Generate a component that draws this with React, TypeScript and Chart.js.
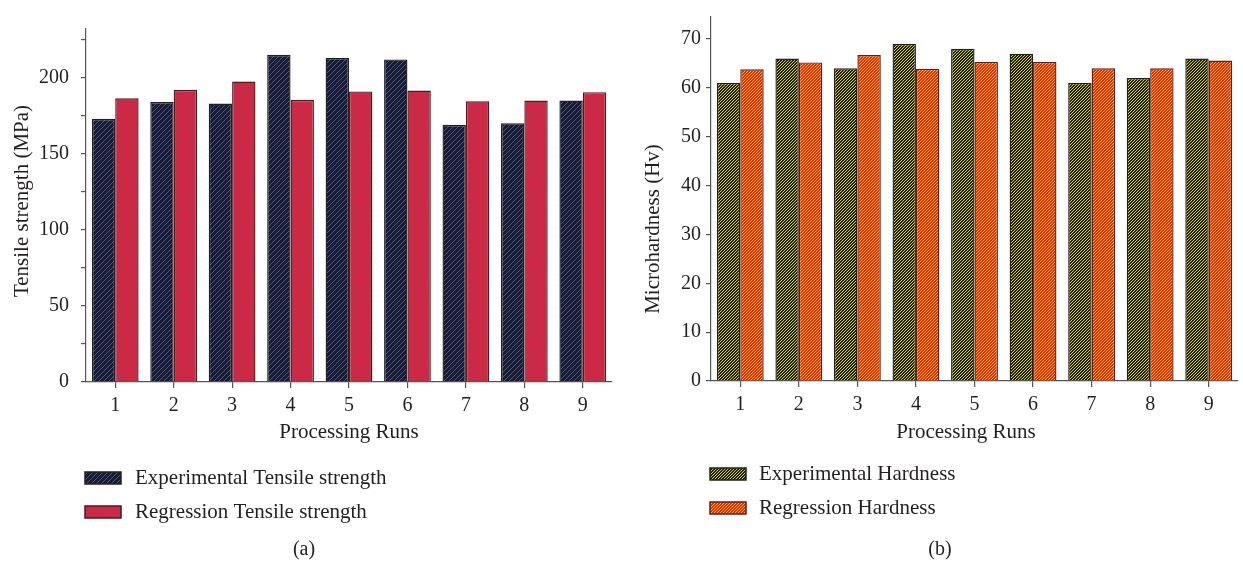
import React, { useEffect, useRef } from "react";
import { Chart, registerables } from "chart.js";

Chart.register(...registerables);

const runs = ["1", "2", "3", "4", "5", "6", "7", "8", "9"];
const expTensile = [173, 184, 183, 215, 213, 212, 169, 170, 185];
const regTensile = [186.5, 192, 197.5, 185.5, 191, 191.5, 184.5, 185, 190.5];
const expHardness = [61, 66, 64, 69, 68, 67, 61, 62, 66];
const regHardness = [63.8, 65.2, 66.7, 63.9, 65.3, 65.3, 64, 64, 65.6];
const tensileSeries = ["Experimental Tensile strength", "Regression Tensile strength"];
const hardnessSeries = ["Experimental Hardness", "Regression Hardness"];
const xTitle = "Processing Runs";
const tensileTitle = "Tensile strength (MPa)";
const hardnessTitle = "Microhardness (Hv)";
const captions = ["(a)", "(b)"];

const FONT = "'Liberation Serif', 'Times New Roman', serif";
const TEXT = "#231f20";
const AXIS = "#555555";

function stripes(base: string, stripe: string, size: number, lw: number) {
  const c = document.createElement("canvas");
  c.width = size;
  c.height = size;
  const g = c.getContext("2d")!;
  g.fillStyle = base;
  g.fillRect(0, 0, size, size);
  g.strokeStyle = stripe;
  g.lineWidth = lw;
  for (const k of [-size, 0, size]) {
    g.beginPath();
    g.moveTo(k, size);
    g.lineTo(k + size, 0);
    g.stroke();
  }
  return g.createPattern(c, "repeat")!;
}

const decor = {
  id: "decor",
  afterDraw(chart: any, _args: any, opts: any) {
    const ctx = chart.ctx as CanvasRenderingContext2D;
    ctx.save();
    ctx.fillStyle = TEXT;
    ctx.textBaseline = "middle";
    ctx.font = `21px ${FONT}`;
    ctx.textAlign = "center";
    ctx.fillText(opts.xTitle, opts.xTitleX, opts.xTitleY);
    ctx.save();
    ctx.translate(opts.yTitleX, opts.yTitleY);
    ctx.rotate(-Math.PI / 2);
    ctx.fillText(opts.yTitle, 0, 0);
    ctx.restore();
    chart.data.datasets.forEach((ds: any, i: number) => {
      const y = opts.legendY[i];
      ctx.fillStyle = ds.backgroundColor;
      ctx.fillRect(opts.legendX, y - 6, 36, 12);
      ctx.strokeStyle = ds.borderColor;
      ctx.lineWidth = 1.5;
      ctx.strokeRect(opts.legendX, y - 6, 36, 12);
      ctx.fillStyle = TEXT;
      ctx.textAlign = "left";
      ctx.font = `21px ${FONT}`;
      ctx.fillText(ds.label, opts.legendTextX, y);
    });
    ctx.font = `20px ${FONT}`;
    ctx.textAlign = "center";
    ctx.fillStyle = TEXT;
    ctx.fillText(opts.caption, opts.captionX, opts.captionY);
    ctx.restore();
  },
};

function makeChart(
  canvas: HTMLCanvasElement,
  labels: string[],
  series: string[],
  a: number[],
  b: number[],
  colors: any[],
  borders: string[],
  yMax: number,
  step: number,
  labelStep: number,
  yWidth: number,
  yPad: number,
  pad: any,
  decorOpts: any
) {
  return new Chart(canvas, {
    type: "bar",
    data: {
      labels,
      datasets: [
        {
          label: series[0],
          data: a,
          backgroundColor: colors[0],
          borderColor: borders[0],
          borderWidth: 1.4,
          categoryPercentage: 0.8,
          barPercentage: 1,
        },
        {
          label: series[1],
          data: b,
          backgroundColor: colors[1],
          borderColor: borders[1],
          borderWidth: 1.4,
          categoryPercentage: 0.8,
          barPercentage: 1,
        },
      ],
    },
    options: {
      animation: false,
      responsive: false,
      devicePixelRatio: 1,
      layout: { padding: pad },
      plugins: {
        legend: { display: false },
        tooltip: { enabled: false },
        decor: decorOpts,
      } as any,
      scales: {
        x: {
          grid: { display: true, drawOnChartArea: false, offset: false, tickLength: 6, color: AXIS, lineWidth: 1.2 },
          border: { color: AXIS, width: 1.2 },
          ticks: { font: { family: FONT, size: 20 }, color: TEXT, padding: 6, maxRotation: 0, autoSkip: false },
          afterFit: (s: any) => {
            s.height = 30;
          },
        },
        y: {
          min: 0,
          max: yMax,
          grid: { display: true, drawOnChartArea: false, tickLength: 5, color: AXIS, lineWidth: 1.2 },
          border: { color: AXIS, width: 1.2 },
          ticks: {
            stepSize: step,
            includeBounds: false,
            maxTicksLimit: 40,
            font: { family: FONT, size: 20 },
            color: TEXT,
            padding: yPad,
            callback: (v: any) => {
              const n = Number(v);
              if (Math.abs(n / labelStep - Math.round(n / labelStep)) < 1e-6) return String(Math.round(n));
              if (Math.abs(n / step - Math.round(n / step)) < 1e-6) return "";
              return null;
            },
          },
          afterFit: (s: any) => {
            s.width = yWidth;
          },
        },
      },
    },
    plugins: [decor],
  } as any);
}

export default function App() {
  const leftRef = useRef<HTMLCanvasElement>(null);
  const rightRef = useRef<HTMLCanvasElement>(null);

  useEffect(() => {
    const left = makeChart(
      leftRef.current!,
      runs,
      tensileSeries,
      expTensile,
      regTensile,
      [stripes("#1b1c28", "#4058b4", 5, 1.0), stripes("#ea1f2a", "#3a5cc4", 5, 0.9)],
      ["#231f20", "#4a1c1c"],
      232,
      25,
      50,
      86,
      12,
      { left: 0, right: 9, top: 29, bottom: 153 },
      {
        xTitle,
        xTitleX: 349,
        xTitleY: 432,
        yTitle: tensileTitle,
        yTitleX: 22,
        yTitleY: 201,
        legendX: 85,
        legendTextX: 135,
        legendY: [478, 512],
        caption: captions[0],
        captionX: 304,
        captionY: 550,
      }
    );
    const right = makeChart(
      rightRef.current!,
      runs,
      hardnessSeries,
      expHardness,
      regHardness,
      [stripes("#1c1c18", "#dcd810", 3, 1.0), stripes("#ee2418", "#f6d810", 3, 0.9)],
      ["#231f20", "#5a2020"],
      74.5,
      5,
      10,
      90,
      5,
      { left: 0, right: 5, top: 10, bottom: 154 },
      {
        xTitle,
        xTitleX: 345,
        xTitleY: 432,
        yTitle: hardnessTitle,
        yTitleX: 32,
        yTitleY: 229,
        legendX: 89,
        legendTextX: 138,
        legendY: [474, 508],
        caption: captions[1],
        captionX: 319,
        captionY: 550,
      }
    );
    return () => {
      left.destroy();
      right.destroy();
    };
  }, []);

  return (
    <div style={{ position: "absolute", left: 0, top: 0, width: 1243, height: 565, background: "#fff" }}>
      <canvas ref={leftRef} width={621} height={565} style={{ position: "absolute", left: 0, top: 0 }} />
      <canvas ref={rightRef} width={622} height={565} style={{ position: "absolute", left: 621, top: 0 }} />
    </div>
  );
}
